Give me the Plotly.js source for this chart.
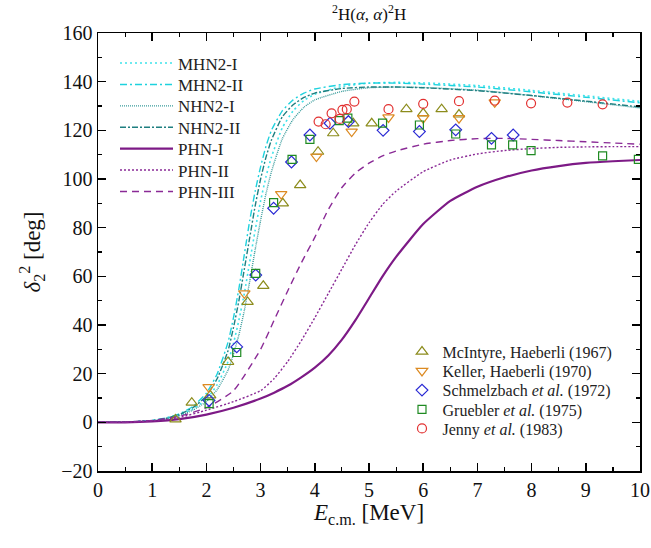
<!DOCTYPE html>
<html>
<head>
<meta charset="utf-8">
<script src="https://cdn.plot.ly/plotly-3.0.1.min.js"></script>
<style>html,body{margin:0;padding:0;background:#fff;}#chart{width:651px;height:548px;}</style>
</head>
<body>
<div id="chart"></div>
<script>
// ---- Theory curves ----
const E_hi = [0,0.5,1,1.25,1.5,1.75,2,2.2,2.4,2.5,2.6,2.7,2.8,2.9,3,3.1,3.2,3.4,3.6,3.8,4,4.5,5,5.5,6,7,8,9,10];
const MHN2_I  = [0,0.1,0.7,1.5,3,5.5,9.5,15.5,25,32.5,42,53,66,79,91,101,109,121,128,132.3,134.8,138,139.4,139.7,139.5,138.4,136.4,134.2,131.9];
const MHN2_II = [0,0.1,0.8,1.8,3.5,6.5,12,20,33,43,55,69,83,95,105,113.5,120,128,132.5,135.3,137,138.8,139.4,139.4,139,137.8,135.8,133.6,131.3];
const NHN2_I  = [0,0.1,0.6,1.4,2.7,5,8.5,13.5,21.5,28,36,46,58,71,83,94,103,116.5,124.5,129.5,132.5,136,137.5,137.8,137.6,136.5,134.3,131.8,129.2];
const NHN2_II = [0,0.1,0.7,1.6,3.2,6,10.8,18,29.5,39,50,63,76,89,100,109,116,125.5,130.5,133.5,135.3,137.2,137.8,137.8,137.5,136.3,134.3,132,129.6];

const E_lo = [0,0.5,1,1.5,2,2.5,3,3.25,3.5,3.75,4,4.25,4.5,4.75,5,5.25,5.5,6,6.5,7,7.5,8,8.5,9,9.5,10];
const PHN_I   = [0,0,0.4,1.3,3.2,6,9.8,12.2,15,18.5,22.5,27.5,34,42,51,60,68,81.5,91,96.8,100.7,103.5,105.3,106.6,107.3,107.8];
const PHN_II  = [0,0,0.6,2,5,8.5,13,18,25,33.5,43,53,63,73,82,89.5,95,103,107.8,110.3,111.7,112.5,113,113.2,113.3,113.3];
const PHN_III = [0,0,0.8,2.5,6,13,30,42,54,65.5,76,87.5,96.5,102.5,106.5,109.5,111.5,114.3,115.8,116.6,116.7,116.3,115.8,115.3,114.8,114.3];

// ---- Experimental data ----
const mcintyre_E = [1.43,1.73,2.07,2.40,2.76,3.05,3.41,3.73,4.06,4.34,4.71,5.05,5.69,6.0,6.34,6.66];
const mcintyre_d = [1.2,8.1,11.1,24.8,49.5,56.1,90,97.5,111.2,118.8,122.9,122.9,128.7,127,128.7,126.5];
const keller_E = [2.04,2.70,3.38,4.03,4.68,5.36,6.0,6.66,7.32];
const keller_d = [14.5,53,93.8,109.2,119.5,125.3,125,125,131.5];
const schmelz_E = [2.05,2.56,2.91,3.24,3.57,3.91,4.28,4.62,5.26,5.93,6.6,7.26,7.66];
const schmelz_d = [9,31,60.5,88,107,118.1,122.9,123.6,120,119.5,120.2,116.7,118.1];
const gruebler_E = [2.05,2.56,2.91,3.24,3.58,3.91,4.45,4.61,5.25,5.93,6.6,7.26,7.65,7.99,9.31,9.97];
const gruebler_d = [7.7,28.7,61.2,90.3,108.1,116.3,124,125,123,122.2,118.5,114,114,111.7,109.5,108.1];
const jenny_E = [4.07,4.2,4.31,4.46,4.51,4.59,4.73,5.36,6.0,6.66,7.32,7.99,8.66,9.31];
const jenny_d = [123.6,122.5,127,124.7,128.4,128.7,131.8,128.7,130.9,132,132.2,131.1,131.4,130.7];

const serif = "'Liberation Serif', 'Times New Roman', Times, 'DejaVu Serif', serif";

// plot area in pixels (for converting legend row positions to paper fractions)
const PL = 98, PT = 33, PW = 542, PH = 438;
const px2x = p => (p - PL) / PW;
const py2y = p => (PT + PH - p) / PH;

function line(name, x, y, color, dash, width, leg) {
  return {x: x, y: y, name: name, type: 'scatter', mode: 'lines', legend: leg,
    line: {color: color, dash: dash, width: width, shape: 'spline', smoothing: 0.5}, hoverinfo: 'skip'};
}
function pts(name, x, y, color, symbol, size, leg) {
  return {x: x, y: y, name: name, type: 'scatter', mode: 'markers', legend: leg,
    marker: {symbol: symbol, size: size, color: color, line: {color: color, width: 1.2}}, hoverinfo: 'skip'};
}

const traces = [
  line('MHN2-I', E_hi, MHN2_I, '#3fe3ea', '2px,3px', 1.6, 'legend'),
  line('MHN2-II', E_hi, MHN2_II, '#1ed2de', '7px,3px,2px,3px', 1.4, 'legend2'),
  line('NHN2-I', E_hi, NHN2_I, '#3a9c9c', '1px,1px', 1.4, 'legend3'),
  line('NHN2-II', E_hi, NHN2_II, '#1f7f80', '6px,2px,2px,2px', 1.4, 'legend4'),
  line('PHN-I', E_lo, PHN_I, '#7d1a86', 'solid', 2.2, 'legend5'),
  line('PHN-II', E_lo, PHN_II, '#8a2a96', '2px,2px', 1.4, 'legend6'),
  line('PHN-III', E_lo, PHN_III, '#8a2a96', '7px,5px', 1.4, 'legend7'),
  pts('McIntyre, Haeberli (1967)', mcintyre_E, mcintyre_d, '#8c8c1c', 'triangle-up-open', 10, 'legend8'),
  pts('Keller, Haeberli (1970)', keller_E, keller_d, '#dc8a22', 'triangle-down-open', 10, 'legend9'),
  pts('Schmelzbach <i>et al.</i> (1972)', schmelz_E, schmelz_d, '#2a2ad4', 'diamond-open', 9, 'legend10'),
  pts('Gruebler <i>et al.</i> (1975)', gruebler_E, gruebler_d, '#1f8a22', 'square-open', 8, 'legend11'),
  pts('Jenny <i>et al.</i> (1983)', jenny_E, jenny_d, '#e23030', 'circle-open', 9, 'legend12')
];

const axisCommon = {
  showgrid: false, zeroline: false, showline: true, linecolor: '#000', linewidth: 1.5,
  mirror: 'allticks', ticks: 'inside', ticklen: 8, tickwidth: 1.5, tickcolor: '#000',
  tickfont: {family: serif, size: 20, color: '#111'}
};

const layout = {
  width: 651, height: 548,
  margin: {l: 98, r: 11, t: 33, b: 77},
  paper_bgcolor: '#fff', plot_bgcolor: '#fff',
  title: {text: '<sup>2</sup>H(<i>α</i>, <i>α</i>)<sup>2</sup>H', font: {family: serif, size: 17, color: '#111'},
    x: 0.567, xanchor: 'center', y: 0.975, yanchor: 'middle'},
  xaxis: Object.assign({}, axisCommon, {range: [0, 10], dtick: 1,
    minor: {ticks: 'inside', dtick: 0.5, ticklen: 4, tickwidth: 1.2, tickcolor: '#000'},
    title: {text: '<i>E</i><sub>c.m.</sub> [MeV]', font: {family: serif, size: 23, color: '#111'}, standoff: 4}}),
  yaxis: Object.assign({}, axisCommon, {range: [-20, 160], dtick: 20,
    minor: {ticks: 'inside', dtick: 10, ticklen: 4, tickwidth: 1.2, tickcolor: '#000'},
    title: {text: '<i>δ</i><sub>2</sub><sup>2</sup> [deg]', font: {family: serif, size: 23, color: '#111'}, standoff: 14}}),
  showlegend: true
};

// one legend box per row so rows sit where the reference has them
const curveRows = [63.5, 84.9, 106.3, 127.7, 149.1, 170.5, 191.9];
const dataRows = [351.7, 371, 390.2, 409.4, 428.5];
const legKeys = ['legend','legend2','legend3','legend4','legend5','legend6','legend7','legend8','legend9','legend10','legend11','legend12'];
legKeys.forEach((k, i) => {
  const isCurve = i < 7;
  layout[k] = {
    x: isCurve ? px2x(115) : px2x(401.5),
    y: py2y(isCurve ? curveRows[i] : dataRows[i - 7]),
    xanchor: 'left', yanchor: 'middle', bgcolor: 'rgba(0,0,0,0)', borderwidth: 0,
    font: {family: serif, size: isCurve ? 17 : 16, color: '#222'},
    itemwidth: isCurve ? 53 : 31, tracegroupgap: 0
  };
});

Plotly.newPlot('chart', traces, layout, {displayModeBar: false, staticPlot: true});
</script>
</body>
</html>
